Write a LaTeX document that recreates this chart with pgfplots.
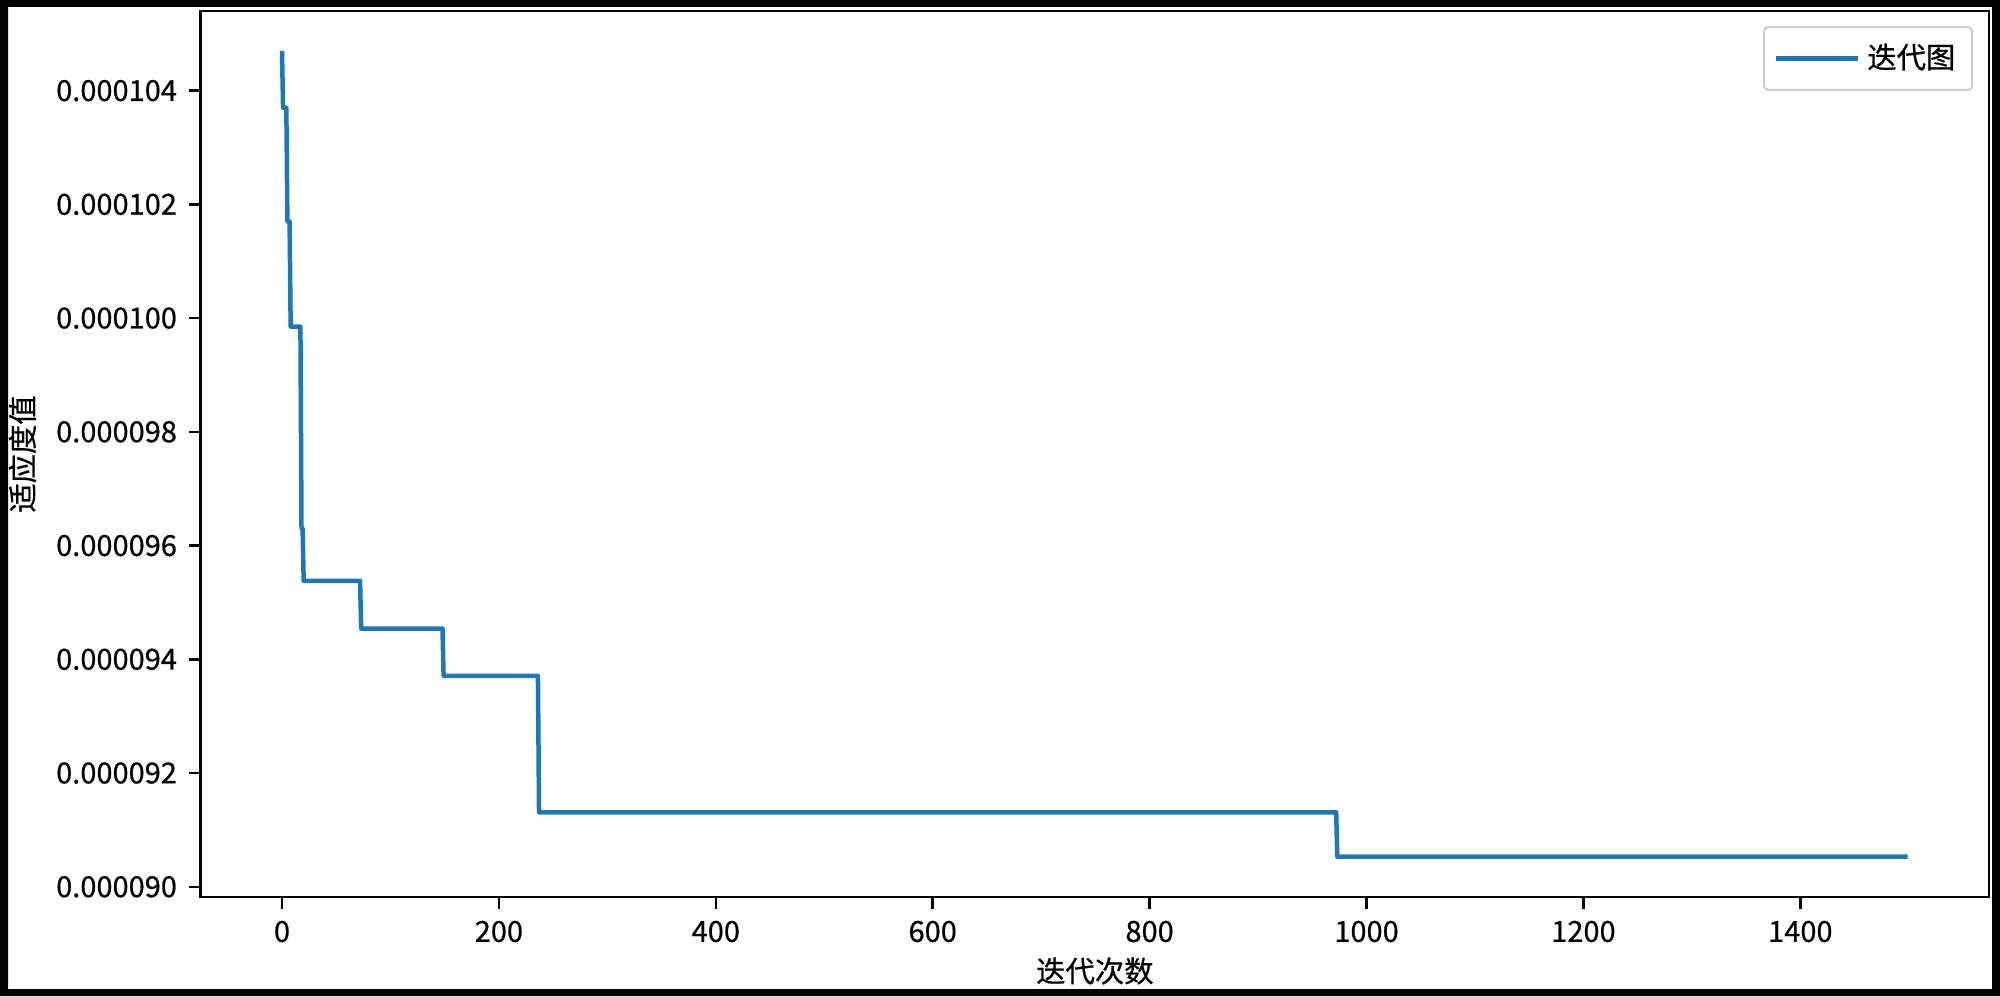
\documentclass[border=0pt]{standalone}
\usepackage{fontspec}
\setmainfont{Noto Sans CJK SC}[FakeBold=0.6]
\usepackage{pgfplots}
\pgfplotsset{compat=1.18}
\definecolor{mplblue}{HTML}{1F77B4}
\newdimen\px
\px=0.3pt
\begin{document}
\begin{tikzpicture}
\begin{axis}[
  at={(200.7\px,99\px)}, anchor=south west,
  width=1788.3\px, height=886\px, scale only axis,
  xmin=-74.95, xmax=1573.95,
  ymin=0.00008982, ymax=0.00010540,
  xtick={0,200,400,600,800,1000,1200,1400},
  ytick={0.000090,0.000092,0.000094,0.000096,0.000098,0.000100,0.000102,0.000104},
  yticklabels={0.000090,0.000092,0.000094,0.000096,0.000098,0.000100,0.000102,0.000104},
  scaled y ticks=false,
  /pgf/number format/assume math mode=true,
  /pgf/number format/1000 sep={},
  tick pos=left,
  tick align=outside,
  major tick length=12\px,
  every tick/.style={black, line width=0.75pt},
  axis line style={line width=0.75pt},
  tick label style={font=\fontsize{8.7}{10}\selectfont},
  label style={font=\fontsize{8.8}{10}\selectfont},
  xlabel={迭代次数},
  ylabel={适应度值},
  xlabel style={at={(axis description cs:0.5,0)}, anchor=center, yshift=-74\px},
  ylabel style={at={([xshift=-178.2\px]axis description cs:0,0.5)}, anchor=center},
  legend style={at={(1,1)}, anchor=north east, xshift=-16\px, yshift=-15\px,
    draw=black!20, rounded corners=4\px, line width=0.6pt,
    font=\fontsize{8.8}{10}\selectfont, inner xsep=3pt, inner ysep=3pt},
  legend cell align=left,
  legend image code/.code={\draw[#1] (0pt,0pt) -- (68\px,0pt); \path (0pt,0pt) -- (82\px,0pt);},
]
\addplot[mplblue, line width=1.35pt, line join=round] coordinates {
(0,0.0001047)
(1,0.0001037)
(4,0.0001037)
(5,0.0001017)
(7,0.0001017)
(8,0.00009985)
(17,0.00009985)
(18,0.0000963)
(19,0.0000963)
(20,0.00009538)
(72,0.00009538)
(73,0.00009454)
(148,0.00009454)
(149,0.00009371)
(236,0.00009371)
(237,0.00009131)
(972,0.00009131)
(973,0.00009053)
(1499,0.00009053)
};
\addlegendentry{迭代图}
\end{axis}
\fill[black, even odd rule] (0,0) rectangle (2000\px,996\px) (8\px,7\px) rectangle (1992\px,989\px);
\pgfresetboundingbox
\path[use as bounding box] (0,0) rectangle (2000\px,996\px);
\end{tikzpicture}
\end{document}
